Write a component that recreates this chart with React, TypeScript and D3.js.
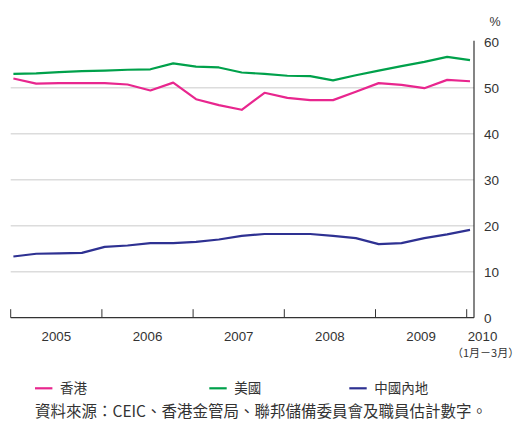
import React from "react";
import * as d3 from "d3";

// Quarterly series, 2005 Q1 – 2010 Q1 (%)
const quarters = [
  "2005Q1", "2005Q2", "2005Q3", "2005Q4",
  "2006Q1", "2006Q2", "2006Q3", "2006Q4",
  "2007Q1", "2007Q2", "2007Q3", "2007Q4",
  "2008Q1", "2008Q2", "2008Q3", "2008Q4",
  "2009Q1", "2009Q2", "2009Q3", "2009Q4",
  "2010Q1",
];
const hongKong = [
  52.0, 50.9, 51.0, 51.0, 51.0, 50.7, 49.4, 51.1, 47.5, 46.2, 45.2,
  48.9, 47.8, 47.3, 47.3, 49.1, 51.0, 50.6, 49.9, 51.7, 51.4,
];
const unitedStates = [
  53.0, 53.1, 53.4, 53.6, 53.7, 53.9, 54.0, 55.3, 54.6, 54.4, 53.3,
  53.0, 52.6, 52.5, 51.6, 52.7, 53.7, 54.7, 55.6, 56.7, 56.0,
];
const mainland = [
  13.3, 13.9, 14.0, 14.1, 15.4, 15.7, 16.2, 16.2, 16.5, 17.0, 17.8,
  18.2, 18.2, 18.2, 17.8, 17.3, 16.0, 16.2, 17.3, 18.1, 19.1,
];

const years = [2005, 2006, 2007, 2008, 2009, 2010];
const yTicks = [0, 10, 20, 30, 40, 50, 60];
const gridValues = [10, 20, 30, 40, 50];

const legendItems = [
  { label: "香港", color: "#e8268e" },
  { label: "美國", color: "#00a14b" },
  { label: "中國內地", color: "#2e3192" },
];
const sourceText = "資料來源：CEIC、香港金管局、聯邦儲備委員會及職員估計數字。";

const W = 520;
const H = 428;
const FONT = "'Liberation Sans', Arial, 'Noto Sans CJK TC', sans-serif";
const CJK = "'Noto Sans CJK TC', 'Liberation Sans', sans-serif";

export default function App() {
  const plotLeft = 10.7;
  const plotRight = 474;
  const x = d3.scaleLinear().domain([0, quarters.length - 1]).range([13.4, 470]);
  const xYear = d3.scaleLinear().domain([2005, 2010]).range([plotLeft, 466.7]);
  const y = d3.scaleLinear().domain([0, 60]).range([317.7, 41.7]);

  const line = d3
    .line<number>()
    .x((_, i) => x(i))
    .y((d) => y(d));

  const series = [
    { values: hongKong, color: legendItems[0].color },
    { values: unitedStates, color: legendItems[1].color },
    { values: mainland, color: legendItems[2].color },
  ];

  return (
    <div style={{ position: "absolute", left: 0, top: 0 }}>
      <svg width={W} height={H} style={{ display: "block", background: "#fff" }}>
        {/* horizontal grid */}
        {gridValues.map((v) => (
          <line
            key={v}
            x1={plotLeft}
            x2={plotRight}
            y1={y(v)}
            y2={y(v)}
            stroke="#dcdcdc"
            strokeWidth={1.6}
          />
        ))}

        {/* series lines */}
        {series.map((s, i) => (
          <path
            key={i}
            d={line(s.values) || ""}
            fill="none"
            stroke={s.color}
            strokeWidth={2.2}
            strokeLinejoin="round"
          />
        ))}

        {/* x axis */}
        <line x1={plotLeft} x2={plotRight} y1={y(0)} y2={y(0)} stroke="#333" strokeWidth={1.2} />
        {years.map((yr) => (
          <line
            key={yr}
            x1={xYear(yr)}
            x2={xYear(yr)}
            y1={y(0)}
            y2={y(0) - 8.5}
            stroke="#333"
            strokeWidth={1}
          />
        ))}
        {years.slice(0, 5).map((yr) => (
          <text
            key={yr}
            x={(xYear(yr) + xYear(yr + 1)) / 2}
            y={340.5}
            textAnchor="middle"
            fontFamily={FONT}
            fontSize={13.3}
            fill="#333"
          >
            {yr}
          </text>
        ))}
        <text x={482.5} y={340.5} textAnchor="middle" fontFamily={FONT} fontSize={13.3} fill="#333">
          2010
        </text>
        <text x={452} y={357} fontFamily={CJK} fontSize={11} fill="#333">
          （1月－3月）
        </text>

        {/* right y axis */}
        <line x1={plotRight} x2={plotRight} y1={y(60) - 1} y2={y(0)} stroke="#333" strokeWidth={1.2} />
        {yTicks.map((v) => (
          <text
            key={v}
            x={484}
            y={y(v) + 5}
            fontFamily={FONT}
            fontSize={13.5}
            fill="#333"
          >
            {v}
          </text>
        ))}
        <text x={489.5} y={26} fontFamily={FONT} fontSize={12.5} fill="#333">
          %
        </text>

        {/* legend */}
        {legendItems.map((item, i) => {
          const lx = [35, 209.3, 349.3][i];
          return (
            <g key={item.label}>
              <line x1={lx} x2={lx + 17.4} y1={388.3} y2={388.3} stroke={item.color} strokeWidth={2.2} />
              <text x={lx + 25} y={393} fontFamily={CJK} fontSize={13.5} fill="#333">
                {item.label}
              </text>
            </g>
          );
        })}

        {/* source note */}
        <text x={35} y={417} fontFamily={CJK} fontSize={15.5} fill="#333">
          {sourceText}
        </text>
      </svg>
    </div>
  );
}
